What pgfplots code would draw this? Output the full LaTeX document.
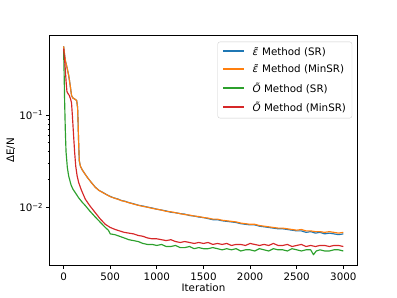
\documentclass[border=0pt]{standalone}
\usepackage{fontspec}
\setmainfont{DejaVu Sans}
\usepackage{pgfplots}
\pgfplotsset{compat=1.18}
\definecolor{tabblue}{HTML}{1F77B4}
\definecolor{taborange}{HTML}{FF7F0E}
\definecolor{tabgreen}{HTML}{2CA02C}
\definecolor{tabred}{HTML}{D62728}
\begin{document}
\begin{tikzpicture}
\useasboundingbox (0,0) rectangle (6.4in,4.8in);
\begin{axis}[
  at={(0.8in,0.528in)}, anchor=south west,
  scale only axis, width=4.96in, height=3.696in,
  ymode=log,
  xmin=-150, xmax=3150, ymin=0.0024, ymax=0.715,
  xtick={0,500,1000,1500,2000,2500,3000},
  ytick={0.01,0.1},
  yticklabels={10\textsuperscript{−2},10\textsuperscript{−1}},
  scaled x ticks=false,
  /pgf/number format/assume math mode=true,
  /pgf/number format/1000 sep={},
  tick align=outside, tick pos=left,
  major tick length=4.2pt, minor tick length=2.4pt,
  every tick/.style={black, line width=0.9pt},
  minor tick style={black, line width=0.7pt},
  axis line style={line width=0.9pt},
  ticklabel style={font=\fontsize{12}{14}\selectfont},
  xticklabel style={yshift=-1pt},
  xlabel={Iteration}, ylabel={ΔE/N},
  label style={font=\fontsize{12}{14}\selectfont},
  xlabel style={yshift=3pt},
  ylabel style={yshift=-2pt},
  legend cell align=left,
  legend style={at={(1,1)}, anchor=north east, xshift=-6pt, yshift=-7pt,
    draw=black!20, rounded corners=2.5pt,
    fill=white, fill opacity=0.8, text opacity=1, font=\fontsize{12}{14}\selectfont,
    row sep=6pt, inner xsep=5pt, inner ysep=4pt},
  legend image code/.code={\draw[#1,line width=2.2pt] (0cm,0.5pt) -- (0.85cm,0.5pt);
     \node[inner sep=0pt, minimum size=0pt] at (1.12cm,0.5pt) {};},
  every axis plot/.append style={line width=1.35pt, line join=round},
]
% eps SR
\addplot[tabblue] coordinates {
(0,0.55)(10,0.45)(20,0.38)(35,0.33)(55,0.265)(70,0.21)(85,0.162)(100,0.152)(120,0.148)(140,0.143)(150,0.12)(155,0.085)(160,0.055)(168,0.032)(180,0.028)(200,0.0255)(230,0.023)(260,0.0208)(300,0.0185)(340,0.0166)(380,0.0153)(420,0.0146)(460,0.0138)(500,0.0132)(540,0.0127)(580,0.0124)(620,0.0119)(660,0.0117)(700,0.0113)(750,0.0110)(800,0.0106)(850,0.0104)(900,0.0101)(950,0.0099)(1000,0.0096)(1050,0.0094)(1100,0.0092)(1150,0.0089)(1200,0.0088)(1250,0.0086)(1300,0.0085)(1350,0.0082)(1400,0.0081)(1450,0.0079)(1500,0.0078)(1550,0.0076)(1600,0.0074)(1650,0.0074)(1700,0.0072)(1750,0.0071)(1800,0.0070)(1850,0.0069)(1900,0.0067)(1950,0.0066)(2000,0.0065)(2050,0.0065)(2100,0.0063)(2150,0.0062)(2200,0.0061)(2250,0.0060)(2300,0.0059)(2350,0.0059)(2400,0.0058)(2450,0.0057)(2500,0.0056)(2550,0.0056)(2600,0.0054)(2650,0.0055)(2700,0.0053)(2750,0.0054)(2800,0.0052)(2850,0.0053)(2900,0.0052)(2950,0.0051)(3000,0.0052)
};
\addlegendentry{\textit{ε̃} Method (SR)}
% eps MinSR
\addplot[taborange] coordinates {
(0,0.55)(10,0.45)(20,0.38)(35,0.33)(55,0.265)(70,0.21)(85,0.162)(100,0.152)(120,0.148)(140,0.143)(150,0.12)(155,0.085)(160,0.055)(168,0.032)(180,0.028)(200,0.0255)(230,0.023)(260,0.0208)(300,0.0185)(340,0.0165)(380,0.0153)(420,0.0145)(460,0.0138)(500,0.0131)(540,0.0127)(580,0.0123)(620,0.0119)(660,0.0116)(700,0.0113)(750,0.0109)(800,0.0106)(850,0.0103)(900,0.0101)(950,0.0098)(1000,0.0096)(1050,0.0094)(1100,0.0091)(1150,0.0090)(1200,0.0088)(1250,0.0086)(1300,0.0084)(1350,0.0083)(1400,0.0081)(1450,0.0080)(1500,0.0078)(1550,0.0077)(1600,0.0075)(1650,0.0075)(1700,0.0073)(1750,0.0072)(1800,0.0071)(1850,0.0070)(1900,0.0068)(1950,0.0067)(2000,0.0066)(2050,0.0066)(2100,0.0064)(2150,0.0063)(2200,0.0062)(2250,0.0061)(2300,0.0060)(2350,0.0060)(2400,0.0059)(2450,0.0058)(2500,0.0057)(2550,0.0058)(2600,0.0056)(2650,0.0056)(2700,0.0055)(2750,0.0055)(2800,0.0054)(2850,0.0055)(2900,0.0054)(2950,0.0053)(3000,0.0054)
};
\addlegendentry{\textit{ε̃} Method (MinSR)}
% O SR
\addplot[tabgreen] coordinates {
(0,0.50)(5,0.30)(11,0.14)(18,0.07)(26,0.040)(40,0.027)(54,0.022)(80,0.0175)(100,0.0158)(125,0.0145)(160,0.0128)(200,0.0114)(233,0.0105)(280,0.0092)(340,0.0079)(390,0.0070)(447,0.0061)(480,0.0057)(500,0.0052)(550,0.0051)(600,0.0049)(650,0.0047)(700,0.0045)(750,0.0044)(800,0.0043)(850,0.0041)(900,0.0040)(950,0.0040)(1000,0.0039)(1050,0.0040)(1100,0.0038)(1150,0.0038)(1200,0.0039)(1250,0.0037)(1300,0.0037)(1350,0.0038)(1400,0.0036)(1450,0.0037)(1500,0.0036)(1550,0.0036)(1600,0.0037)(1650,0.0036)(1700,0.0035)(1750,0.0036)(1800,0.0035)(1850,0.0036)(1900,0.0034)(1950,0.0035)(2000,0.0035)(2050,0.0034)(2100,0.0036)(2150,0.0035)(2200,0.0034)(2250,0.0036)(2300,0.0035)(2350,0.0035)(2400,0.0034)(2450,0.0036)(2500,0.0035)(2550,0.0034)(2600,0.0035)(2650,0.0035)(2680,0.0031)(2710,0.0034)(2750,0.0035)(2800,0.0034)(2850,0.0034)(2900,0.0035)(2950,0.0035)(3000,0.0034)
};
\addlegendentry{\textit{Õ} Method (SR)}
% O MinSR
\addplot[tabred] coordinates {
(0,0.52)(10,0.40)(18,0.31)(28,0.22)(36,0.178)(50,0.168)(61,0.162)(75,0.148)(85,0.135)(95,0.095)(107,0.060)(118,0.040)(130,0.028)(145,0.022)(161,0.0187)(190,0.0155)(233,0.0123)(280,0.0105)(340,0.0088)(390,0.0076)(447,0.0066)(500,0.0061)(554,0.0058)(600,0.0056)(650,0.0054)(700,0.0053)(750,0.0052)(800,0.0050)(850,0.0049)(900,0.0047)(950,0.0046)(1000,0.0046)(1050,0.0045)(1100,0.0044)(1150,0.0045)(1200,0.0043)(1250,0.0042)(1300,0.0043)(1350,0.0042)(1400,0.0041)(1450,0.0042)(1500,0.0041)(1550,0.0042)(1600,0.0040)(1650,0.0041)(1700,0.0040)(1750,0.0041)(1800,0.0039)(1850,0.0040)(1900,0.0040)(1950,0.0039)(2000,0.0041)(2050,0.0040)(2100,0.0039)(2150,0.0040)(2200,0.0039)(2250,0.0041)(2300,0.0039)(2350,0.0039)(2400,0.0040)(2450,0.0038)(2500,0.0039)(2550,0.0040)(2600,0.0038)(2650,0.0039)(2700,0.0038)(2750,0.0039)(2800,0.0039)(2850,0.0038)(2900,0.0039)(2950,0.0039)(3000,0.0038)
};
\addlegendentry{\textit{Õ} Method (MinSR)}
\end{axis}
\end{tikzpicture}
\end{document}
